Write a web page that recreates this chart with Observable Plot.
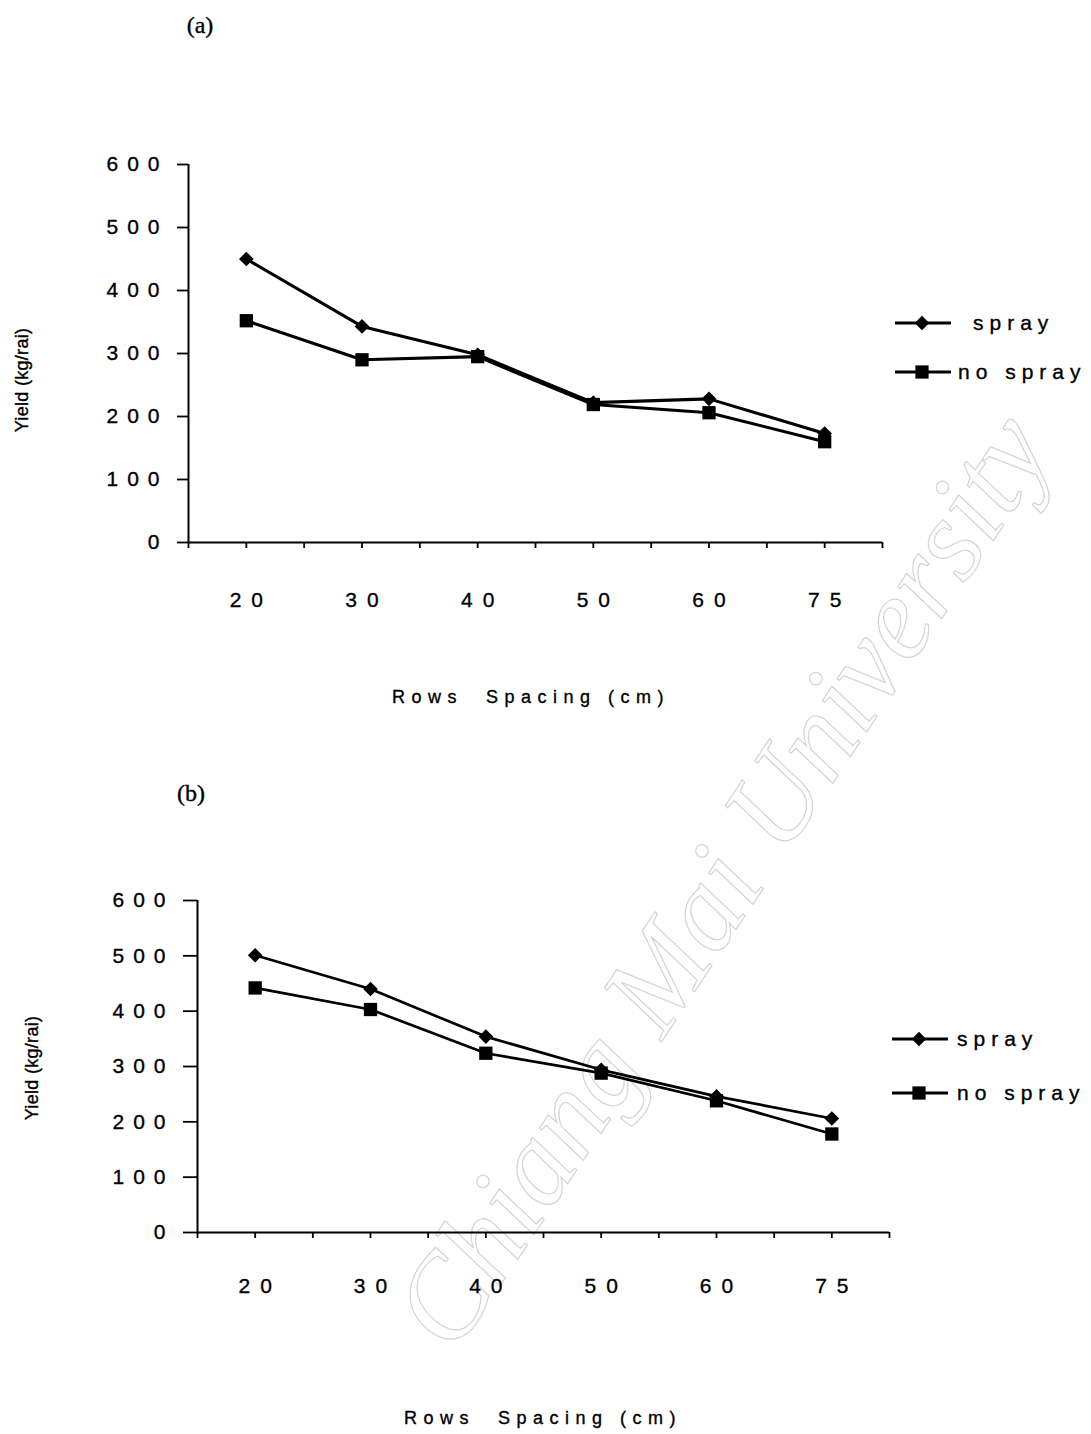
<!DOCTYPE html>
<html>
<head>
<meta charset="utf-8">
<script src="https://cdn.jsdelivr.net/npm/d3@7"></script>
<script src="https://cdn.jsdelivr.net/npm/@observablehq/plot@0.6"></script>
<style>
  html, body { margin: 0; padding: 0; background: #fff; }
  #page { position: relative; width: 1091px; height: 1434px; overflow: hidden; background: #fff; font-family: "Liberation Sans", Arial, sans-serif; color: #000; }
  .chart { position: absolute; left: 0; }
  .lbl { position: absolute; white-space: pre; line-height: 1; -webkit-text-stroke: 0.35px #000; }
  .panel { font-family: "Liberation Serif", "Times New Roman", serif; font-size: 24px; transform: translate(-50%, -50%); }
  .xtitle { font-size: 18px; letter-spacing: 6.5px; transform: translate(-50%, -50%); }
  .ytitle { font-size: 18px; letter-spacing: 0.3px; transform: translate(-50%, -50%) rotate(-90deg); }
  .leg { position: absolute; display: flex; align-items: center; white-space: pre; font-size: 21px; letter-spacing: 6px; line-height: 1; -webkit-text-stroke: 0.35px #000; }
  .leg svg { display: block; }
  .wm { position: absolute; left: 722px; top: 880px; white-space: pre; line-height: 1;
        font-family: "Liberation Serif", "Times New Roman", serif; font-style: italic; font-size: 118px;
        color: transparent; -webkit-text-stroke: 1.2px #d4d4d4; transform: translate(-50%, -50%) rotate(-56.5deg); }
  .chart text { stroke: #000; stroke-width: 0.35px; }
  .chart [aria-label="y-axis tick label"] text { letter-spacing: 9px; }
  .chart [aria-label="x-axis tick label"] text { letter-spacing: 10px; }
</style>
</head>
<body>
<div id="page"></div>
<script>
// ---- data ----
const categories = ["20", "30", "40", "50", "60", "75"];
const seriesNames = ["spray", "no spray"];
const sprayA   = [450, 343, 298, 222, 228, 173];
const noSprayA = [352, 290, 295, 219, 206, 160];
const sprayB   = [501, 440, 354, 294, 246, 206];
const noSprayB = [442, 403, 324, 288, 238, 178];
const yTicks = [0, 100, 200, 300, 400, 500, 600];
const panelLabels = ["(a)", "(b)"];
const xTitle = "Rows  Spacing (cm)";
const yTitle = "Yield (kg/rai)";
const watermark = "Chiang Mai University";

function rows(spray, noSpray) {
  const out = [];
  categories.forEach((c, i) => {
    out.push({cat: c, xi: i + 0.5, series: seriesNames[0], value: spray[i]});
    out.push({cat: c, xi: i + 0.5, series: seriesNames[1], value: noSpray[i]});
  });
  return out;
}

const xTickPos = d3.range(0, categories.length + 0.25, 0.5);
const xLabelPos = categories.map((c, i) => i + 0.5);
const xFmt = t => categories[Math.floor(t)];

function chart(data, o) {
  return Plot.plot({
    width: 1091,
    height: o.height,
    marginTop: o.mt, marginBottom: o.mb, marginLeft: o.ml, marginRight: o.mr,
    x: {domain: [0, categories.length], axis: null},
    y: {domain: [0, 600], axis: null},
    style: {fontFamily: '"Liberation Sans", Arial, sans-serif', fontSize: "21px", color: "#000", background: "transparent", overflow: "visible"},
    marks: [
      Plot.axisY({ticks: yTicks, tickSize: o.yTick, tickPadding: 9, strokeWidth: 1.8, label: null, tickFormat: d => String(d)}),
      Plot.axisX({ticks: xTickPos, tickSize: 6, strokeWidth: 1.8, label: null, tickFormat: () => ""}),
      Plot.axisX({ticks: xLabelPos, tickSize: 0, tickPadding: o.xPad, label: null, tickFormat: xFmt, dx: 5}),
      Plot.ruleX([0], {stroke: "#000", strokeWidth: 2}),
      Plot.ruleY([0], {stroke: "#000", strokeWidth: 2}),
      Plot.line(data, {x: "xi", y: "value", z: "series", stroke: "#000", strokeWidth: o.sw}),
      Plot.dot(data.filter(d => d.series === seriesNames[0]), {x: "xi", y: "value", symbol: "diamond2", r: 6.6, fill: "#000", stroke: null}),
      Plot.dot(data.filter(d => d.series === seriesNames[1]), {x: "xi", y: "value", symbol: "square", r: 7.5, fill: "#000", stroke: null})
    ]
  });
}

const page = document.getElementById("page");

const wm = document.createElement("div");
wm.className = "wm";
wm.textContent = watermark;
page.appendChild(wm);

function addChart(svg, top) {
  svg.classList.add("chart");
  svg.style.top = top + "px";
  page.appendChild(svg);
}

addChart(chart(rows(sprayA, noSprayA), {height: 740, mt: 164, mb: 198, ml: 188, mr: 209, yTick: 11, xPad: 50, sw: 3.1}), 0);
addChart(chart(rows(sprayB, noSprayB), {height: 674, mt: 140, mb: 202, ml: 197, mr: 202, yTick: 14, xPad: 46, sw: 2.7}), 760);

function label(text, cls, x, y) {
  const d = document.createElement("div");
  d.className = "lbl " + cls;
  d.textContent = text;
  d.style.left = x + "px";
  d.style.top = y + "px";
  page.appendChild(d);
}

label(panelLabels[0], "panel", 200, 25);
label(panelLabels[1], "panel", 191, 793);
label(xTitle, "xtitle", 531, 697);
label(xTitle, "xtitle", 543, 1418);
label(yTitle, "ytitle", 22, 380);
label(yTitle, "ytitle", 32, 1068);

function swatch(symbol) {
  const ns = "http://www.w3.org/2000/svg";
  const s = document.createElementNS(ns, "svg");
  s.setAttribute("width", 58); s.setAttribute("height", 20);
  const l = document.createElementNS(ns, "line");
  l.setAttribute("x1", 1); l.setAttribute("x2", 57); l.setAttribute("y1", 10); l.setAttribute("y2", 10);
  l.setAttribute("stroke", "#000"); l.setAttribute("stroke-width", 3);
  s.appendChild(l);
  const p = document.createElementNS(ns, "path");
  p.setAttribute("d", d3.symbol(symbol === "diamond" ? d3.symbolDiamond2 : d3.symbolSquare, symbol === "diamond" ? 135 : 175)());
  p.setAttribute("transform", "translate(28,10)");
  p.setAttribute("fill", "#000");
  s.appendChild(p);
  return s;
}

function legendItem(symbol, text, x, y, gap) {
  const d = document.createElement("div");
  d.className = "leg";
  d.style.left = x + "px";
  d.style.top = (y - 10) + "px";
  d.appendChild(swatch(symbol));
  const t = document.createElement("span");
  t.textContent = text;
  t.style.marginLeft = gap + "px";
  d.appendChild(t);
  page.appendChild(d);
}

legendItem("diamond", seriesNames[0], 894, 322, 21);
legendItem("square", seriesNames[1], 894, 371, 6);
legendItem("diamond", seriesNames[0], 891, 1038, 8);
legendItem("square", seriesNames[1], 891, 1092, 8);
</script>
</body>
</html>
